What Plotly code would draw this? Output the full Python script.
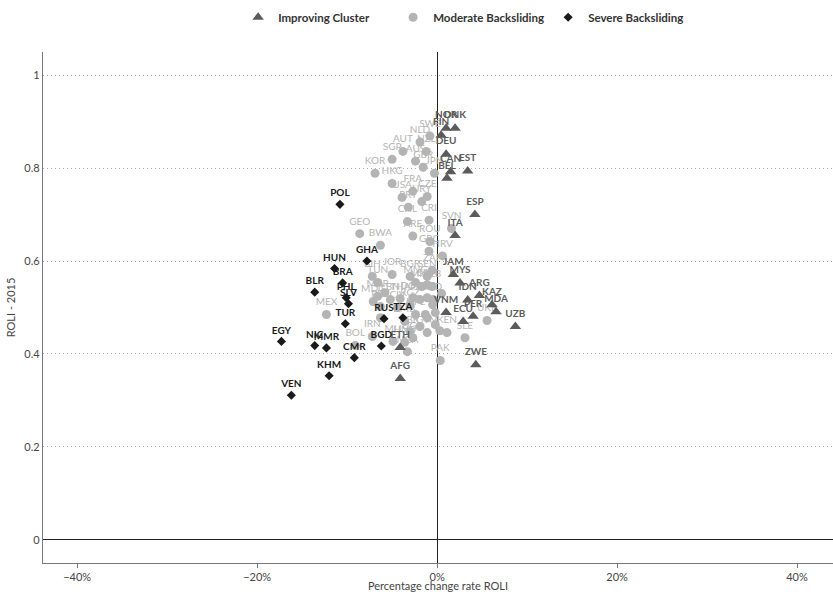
import plotly.graph_objects as go

# ---- data (x = percentage change rate ROLI, y = ROLI 2015) ----
imp_codes = ["NOR", "DNK", "FIN", "DEU", "CAN", "BEL", "EST", "ESP", "ITA", "JAM", "MYS",
             "ARG", "IDN", "KAZ", "MDA", "PER", "ECU", "VNM", "UZB", "ZWE", "ETH", "AFG"]
imp_x = [1.0, 2.0, 0.45, 1.0, 1.5, 1.1, 3.4, 4.2, 2.0, 1.8, 2.55,
         4.7, 3.4, 6.1, 6.55, 4.0, 2.9, 1.0, 8.7, 4.3, -4.1, -4.1]
imp_y = [0.886, 0.886, 0.871, 0.830, 0.792, 0.778, 0.794, 0.700, 0.655, 0.571, 0.553,
         0.526, 0.516, 0.506, 0.491, 0.481, 0.470, 0.489, 0.459, 0.377, 0.414, 0.347]

mod_codes = ["SWE", "NLD", "NZL", "AUT", "SGP", "AUS", "GBR", "JPN", "KOR", "HKG",
             "FRA", "CZE", "USA", "URY", "PRT", "CHL", "CRI", "GEO", "ARE", "SVN",
             "BWA", "ROU", "GRC", "HRV", "ZAF", "BIH", "TUN", "JOR", "BGR", "SEN",
             "MNG", "MKD", "ALB", "MAR", "THA", "LBN", "DOM", "PAN", "SRB", "IND",
             "CHN", "MDG", "PRY", "CIV", "KGZ", "UKR", "NPL", "ZMB", "LBR", "GTM",
             "KEN", "SLE", "PAK", "HND", "UGA", "NGA", "MLI", "IRN", "BOL", "MEX",
             "BFA", "LKA", "ECU2", "SLB", "MWI", "GIN", "TGO", "BEN", "NER", "MOZ"]
mod_x = [-0.8, -1.9, -1.2, -3.8, -5.0, -2.4, -1.55, -0.3, -6.9, -5.0,
         -2.7, -1.1, -3.9, -1.7, -3.2, -3.3, -0.9, -8.6, -2.7, 1.6,
         -6.3, -0.8, -0.9, 0.6, -0.55, -7.2, -6.6, -5.0, -3.0, -1.1,
         -2.4, -1.7, -0.55, -6.6, -4.1, -5.2, -2.7, -1.9, -1.1, -0.45,
         -1.1, -7.1, -6.3, -4.4, -3.0, 5.55, -2.4, -3.6, -3.0, -1.1,
         1.1, 3.1, 0.35, -3.6, -2.7, -3.3, -4.9, -7.2, -9.1, -12.3,
         -6.3, -5.8, -0.5, -1.3, -0.2, -1.1, -0.2, 0.3, -1.9, 0.5]
mod_y = [0.869, 0.856, 0.836, 0.836, 0.819, 0.815, 0.802, 0.789, 0.789, 0.767,
         0.750, 0.739, 0.737, 0.728, 0.716, 0.685, 0.688, 0.659, 0.654, 0.670,
         0.634, 0.642, 0.621, 0.611, 0.580, 0.567, 0.554, 0.571, 0.567, 0.567,
         0.554, 0.545, 0.545, 0.524, 0.519, 0.517, 0.521, 0.517, 0.521, 0.517,
         0.549, 0.513, 0.502, 0.500, 0.506, 0.472, 0.485, 0.470, 0.448, 0.446,
         0.446, 0.435, 0.386, 0.425, 0.435, 0.405, 0.427, 0.4375, 0.418, 0.485,
         0.478, 0.532, 0.506, 0.485, 0.489, 0.478, 0.463, 0.450, 0.459, 0.530]
unlabeled = ("ECU2", "SLB", "MWI", "GIN", "TGO", "BEN", "NER", "MOZ", "BFA", "LKA")
mod_labels = ["" if c in unlabeled else c for c in mod_codes]

sev_codes = ["POL", "GHA", "HUN", "BRA", "BLR", "PHL", "SLV", "TUR", "EGY", "NIC",
             "MMR", "CMR", "KHM", "VEN", "BGD", "RUS", "TZA"]
sev_x = [-10.8, -7.8, -11.4, -10.5, -13.6, -10.1, -9.85, -10.2, -17.3, -13.6,
         -12.3, -9.2, -12.0, -16.2, -6.2, -5.9, -3.8]
sev_y = [0.722, 0.600, 0.584, 0.553, 0.533, 0.521, 0.508, 0.465, 0.427, 0.418,
         0.413, 0.392, 0.353, 0.311, 0.417, 0.476, 0.478]

x_ticks = [-0.4, -0.2, 0, 0.2, 0.4]
y_ticks = [0, 0.2, 0.4, 0.6, 0.8, 1]

IMP_C = "#5b5b5b"
MOD_C = "#b4b4b4"
SEV_C = "#1a1a1a"
FONT = "Lato, 'Open Sans', sans-serif"

fig = go.Figure()
fig.add_trace(go.Scatter(
    x=[v / 100 for v in mod_x], y=mod_y, text=mod_labels, name="Moderate Backsliding",
    mode="markers+text", textposition="top center", legendrank=2,
    marker=dict(symbol="circle", size=9, color=MOD_C),
    textfont=dict(family=FONT, size=10, color=MOD_C), cliponaxis=False))
fig.add_trace(go.Scatter(
    x=[v / 100 for v in imp_x], y=imp_y, text=imp_codes, name="Improving Cluster",
    mode="markers+text", textposition="top center", legendrank=1,
    marker=dict(symbol="triangle-up", size=10, color=IMP_C),
    textfont=dict(family=FONT, size=10, color=IMP_C, weight="bold"), cliponaxis=False))
fig.add_trace(go.Scatter(
    x=[v / 100 for v in sev_x], y=sev_y, text=sev_codes, name="Severe Backsliding",
    mode="markers+text", textposition="top center", legendrank=3,
    marker=dict(symbol="diamond", size=7, color=SEV_C),
    textfont=dict(family=FONT, size=10, color=SEV_C, weight="bold"), cliponaxis=False))

fig.update_layout(
    width=833, height=592,
    margin=dict(l=43, r=0, t=52, b=29, autoexpand=False),
    paper_bgcolor="white", plot_bgcolor="white",
    font=dict(family=FONT, size=11, color="#444"),
    legend=dict(orientation="h", x=0.247, xanchor="left", y=1.068, yanchor="middle",
                font=dict(family=FONT, size=11.5, color="#333", weight="bold"),
                itemwidth=30, tracegroupgap=0, entrywidth=110),
    showlegend=True,
)
fig.update_xaxes(
    range=[-0.438, 0.44], tickvals=x_ticks, tickformat=".0%", automargin=False,
    showgrid=False, zeroline=True, zerolinecolor="#222", zerolinewidth=1.3,
    showline=True, linecolor="#777", linewidth=1.3, ticks="outside", ticklen=4,
    tickcolor="#777", tickfont=dict(size=11, color="#444"),
    title=dict(text="Percentage change rate ROLI", font=dict(size=11, color="#444"), standoff=0))
fig.update_yaxes(
    range=[-0.05, 1.05], tickvals=y_ticks, ticktext=["0", "0.2", "0.4", "0.6", "0.8", "1"],
    automargin=False,
    showgrid=True, gridcolor="#aaa", griddash="1px,3px", gridwidth=1,
    zeroline=True, zerolinecolor="#222", zerolinewidth=1.3,
    showline=True, linecolor="#777", linewidth=1.3, ticks="",
    tickfont=dict(size=11, color="#444"),
    title=dict(text="ROLI - 2015", font=dict(size=11, color="#444"), standoff=6))

fig.write_html("out.html", config={"displayModeBar": False},
               post_script="document.body.style.margin='0';document.body.style.overflow='hidden';")
